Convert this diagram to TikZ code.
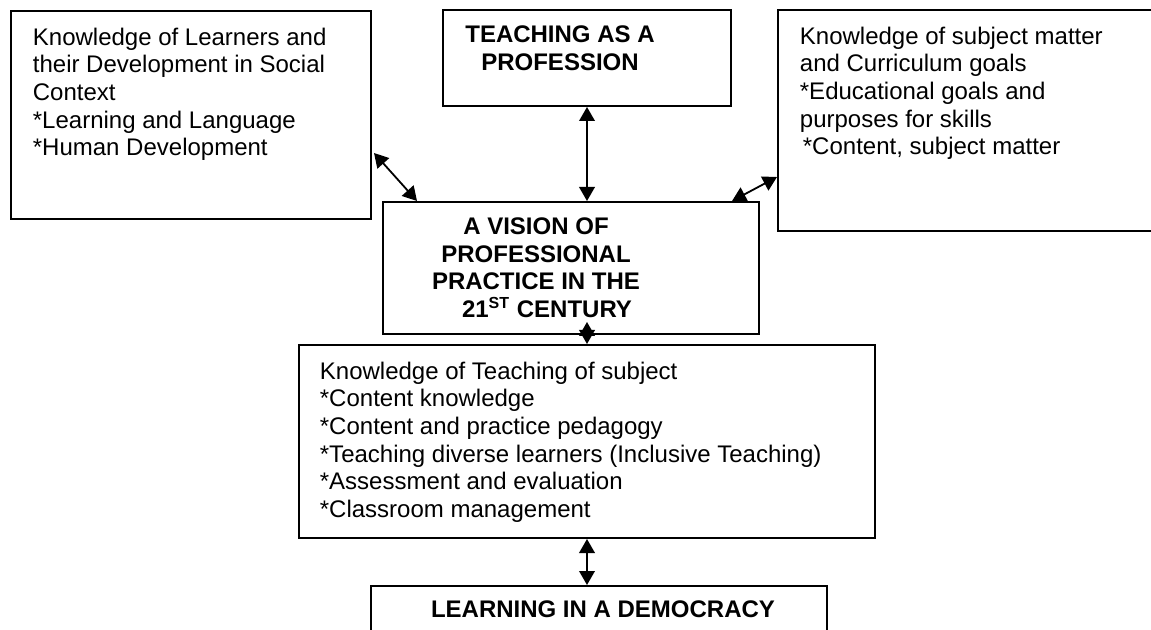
\documentclass[tikz,border=0pt]{standalone}
\usepackage{fontspec}
\setmainfont{Liberation Sans}
\usetikzlibrary{arrows.meta,positioning,calc}

\begin{document}
\begin{tikzpicture}[x=0.5pt,y=-0.5pt,<->,>={Triangle[length=7pt,width=7.8pt]},line width=0.9pt,
  box/.style={draw,line width=1pt,anchor=north west,inner sep=0pt},
  txt/.style={anchor=north west,align=left,inner sep=0pt,font=\fontsize{12pt}{13.8pt}\selectfont},
  head/.style={txt,anchor=north,align=center,font=\fontsize{12pt}{13.8pt}\selectfont\bfseries}]
\useasboundingbox (0,0) rectangle (1151,630);
\node[box,minimum width=180pt,minimum height=104pt] (learners) at (10,10) {};
\node[txt] at ($(learners.north west)+(22,17)$) {Knowledge of Learners and\\their Development in Social\\Context\\*Learning and Language\\*Human Development};
\node[box,minimum width=144pt,minimum height=48pt] (teaching) at (442,9) {};
\node[head] at ($(teaching.north west)+(118,16)$) {TEACHING AS A\\PROFESSION};
\node[box,minimum width=200pt,minimum height=110.5pt] (subject) at (777,9) {};
\node[txt] at ($(subject.north west)+(22,17)$) {Knowledge of subject matter\\and Curriculum goals\\*Educational goals and\\purposes for skills\\\hspace*{1.5pt}*Content, subject matter};
\node[box,minimum width=188pt,minimum height=66pt] (vision) at (382,201) {};
\node[head] at ($(vision.north west)+(154,16)$) {A VISION OF\\PROFESSIONAL\\PRACTICE IN THE\hspace*{10pt}\\\hspace*{11pt}21\textsuperscript{ST} CENTURY};
\node[box,minimum width=288pt,minimum height=96.5pt] (teachsubj) at (298,344) {};
\node[txt] at ($(teachsubj.north west)+(21,17)$) {Knowledge of Teaching of subject\\*Content knowledge\\*Content and practice pedagogy\\*Teaching diverse learners (Inclusive Teaching)\\*Assessment and evaluation\\*Classroom management};
\node[box,minimum width=228pt,minimum height=40pt] (democracy) at (370,585) {};
\node[head] at ($(democracy.north west)+(233,15)$) {LEARNING IN A DEMOCRACY};
\draw ($(learners.north east)+(2,143)$) -- ($(vision.north west)+(35,0)$);
\draw (teaching.south) -- (teaching.south |- vision.north);
\draw ($(vision.north east)+(-28,0)$) -- ($(subject.north west)+(0,168)$);
\draw (teachsubj.north) -- ($(teachsubj.north)+(0,-22)$);
\draw (teachsubj.south) -- (teachsubj.south |- democracy.north);
\end{tikzpicture}
\end{document}
